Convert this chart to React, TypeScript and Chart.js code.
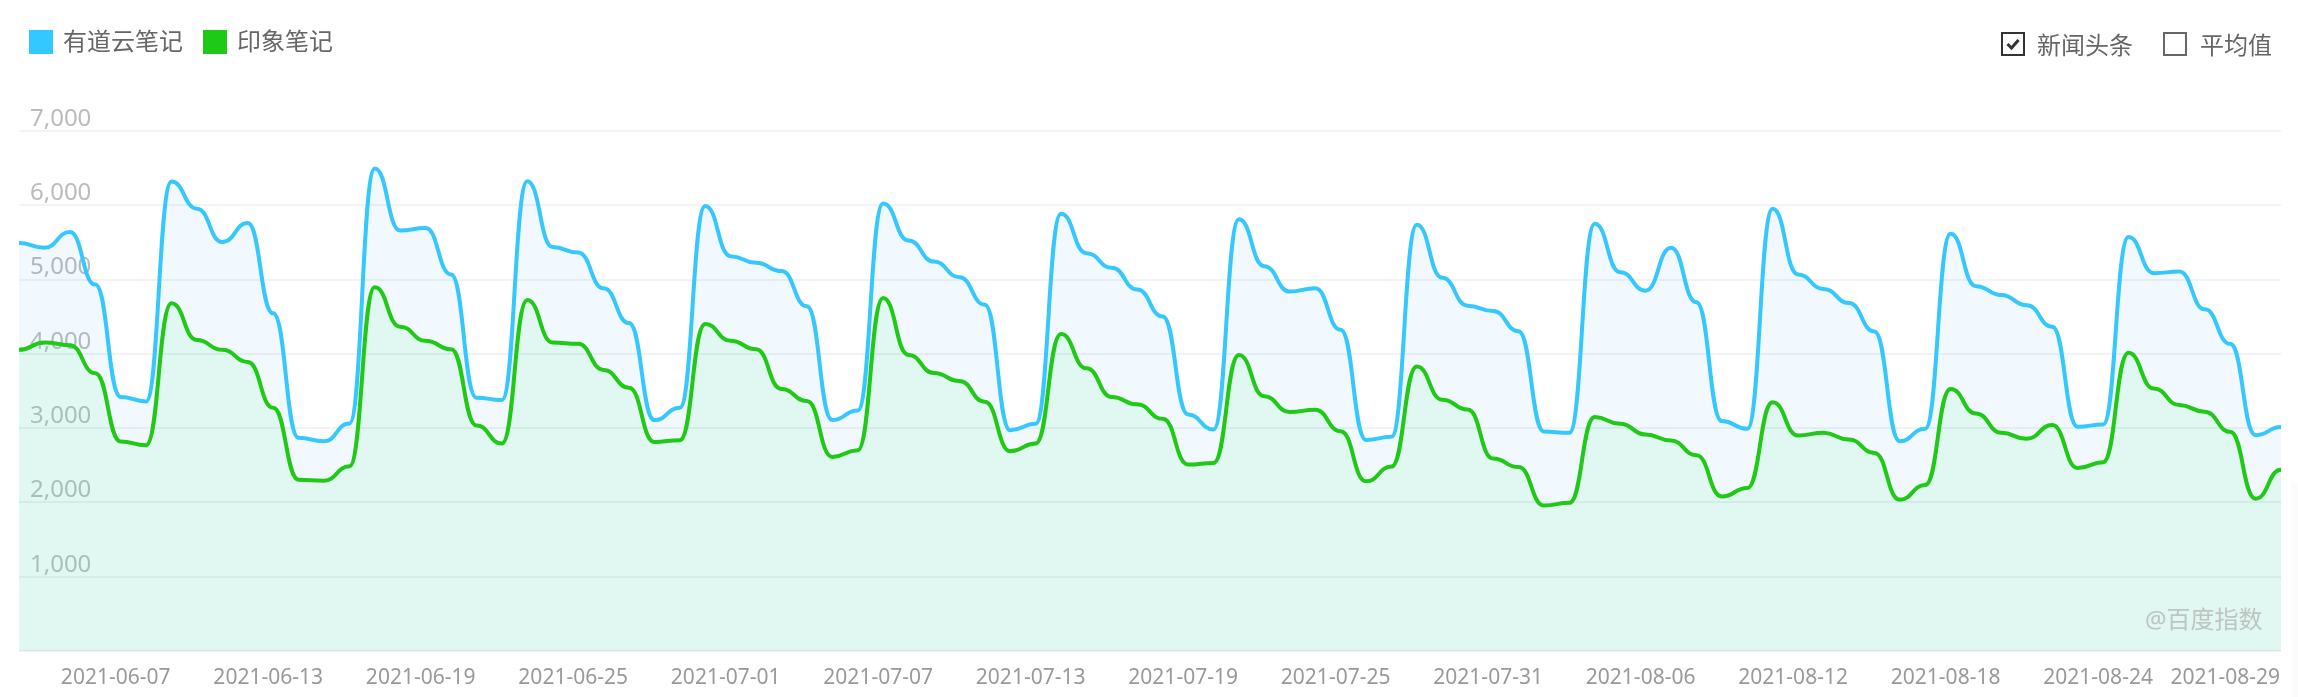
import React, { useEffect, useRef } from 'react'
import { Chart, registerables } from 'chart.js'

Chart.register(...registerables)

const dates = [
  '2021-06-01', '2021-06-02', '2021-06-03', '2021-06-04', '2021-06-05', '2021-06-06', '2021-06-07', '2021-06-08', '2021-06-09', '2021-06-10',
  '2021-06-11', '2021-06-12', '2021-06-13', '2021-06-14', '2021-06-15', '2021-06-16', '2021-06-17', '2021-06-18', '2021-06-19', '2021-06-20',
  '2021-06-21', '2021-06-22', '2021-06-23', '2021-06-24', '2021-06-25', '2021-06-26', '2021-06-27', '2021-06-28', '2021-06-29', '2021-06-30',
  '2021-07-01', '2021-07-02', '2021-07-03', '2021-07-04', '2021-07-05', '2021-07-06', '2021-07-07', '2021-07-08', '2021-07-09', '2021-07-10',
  '2021-07-11', '2021-07-12', '2021-07-13', '2021-07-14', '2021-07-15', '2021-07-16', '2021-07-17', '2021-07-18', '2021-07-19', '2021-07-20',
  '2021-07-21', '2021-07-22', '2021-07-23', '2021-07-24', '2021-07-25', '2021-07-26', '2021-07-27', '2021-07-28', '2021-07-29', '2021-07-30',
  '2021-07-31', '2021-08-01', '2021-08-02', '2021-08-03', '2021-08-04', '2021-08-05', '2021-08-06', '2021-08-07', '2021-08-08', '2021-08-09',
  '2021-08-10', '2021-08-11', '2021-08-12', '2021-08-13', '2021-08-14', '2021-08-15', '2021-08-16', '2021-08-17', '2021-08-18', '2021-08-19',
  '2021-08-20', '2021-08-21', '2021-08-22', '2021-08-23', '2021-08-24', '2021-08-25', '2021-08-26', '2021-08-27', '2021-08-28', '2021-08-29',
]

const tickDates = [
  '2021-06-07', '2021-06-13', '2021-06-19', '2021-06-25', '2021-07-01', '2021-07-07', '2021-07-13', '2021-07-19',
  '2021-07-25', '2021-07-31', '2021-08-06', '2021-08-12', '2021-08-18', '2021-08-24', '2021-08-29',
]

const youdao = [
  5491, 5428, 5640, 4932, 3419, 3360, 6320, 5955, 5505, 5761, 4545, 2869, 2824, 3063, 6495,
  5660, 5694, 5068, 3410, 3378, 6324, 5437, 5365, 4883, 4414, 3108, 3275, 5991, 5315, 5225,
  5115, 4640, 3108, 3239, 6023, 5527, 5243, 5032, 4662, 2973, 3059, 5887, 5356, 5158, 4865,
  4503, 3185, 2982, 5811, 5180, 4838, 4883, 4324, 2842, 2883, 5739, 5023, 4649, 4577, 4306,
  2955, 2937, 5752, 5099, 4851, 5428, 4694, 3095, 2991, 5955, 5068, 4874, 4685, 4302, 2824,
  2993, 5617, 4910, 4793, 4653, 4365, 3018, 3050, 5572, 5086, 5108, 4599, 4135, 2905, 3014,
]

const yinxiang = [
  4054, 4153, 4117, 3739, 2820, 2770, 4680, 4185, 4054, 3892, 3275, 2306, 2293, 2486, 4896,
  4365, 4176, 4063, 3036, 2793, 4725, 4153, 4135, 3784, 3545, 2815, 2838, 4401, 4176, 4063,
  3527, 3365, 2613, 2703, 4752, 3986, 3743, 3635, 3356, 2689, 2793, 4266, 3806, 3419, 3320,
  3126, 2509, 2532, 3986, 3428, 3216, 3248, 2959, 2284, 2482, 3829, 3383, 3252, 2590, 2477,
  1959, 1995, 3149, 3059, 2914, 2833, 2635, 2081, 2194, 3347, 2901, 2937, 2847, 2667, 2036,
  2235, 3527, 3198, 2937, 2856, 3041, 2464, 2541, 4014, 3532, 3311, 3221, 2950, 2050, 2441,
]

const FONT = '"Noto Sans", "Noto Sans CJK SC", sans-serif'
const SMOOTH = 0.5

// the original curve is flat at every point, which chart.js has no mode for
const flatTangents = {
  id: 'flatTangents',
  beforeDatasetsDraw(chart: any) {
    chart.getSortedVisibleDatasetMetas().forEach((meta: any) => {
      meta.data.forEach((p: any, i: number) => {
        const prev = meta.data[i - 1]
        const next = meta.data[i + 1]
        p.cp1x = prev ? p.x - (p.x - prev.x) * SMOOTH : p.x
        p.cp1y = p.y
        p.cp2x = next ? p.x + (next.x - p.x) * SMOOTH : p.x
        p.cp2y = p.y
      })
    })
  },
}

const abs = (left: number, top: number, extra: React.CSSProperties = {}): React.CSSProperties => ({
  position: 'absolute', left, top, ...extra,
})

const text: React.CSSProperties = { fontSize: 24, lineHeight: '24px', color: '#666', whiteSpace: 'nowrap' }

const App = () => {
  const canvasRef = useRef<HTMLCanvasElement>(null)

  useEffect(() => {
    if (!canvasRef.current) return
    const chart = new Chart(canvasRef.current, {
      type: 'line',
      plugins: [flatTangents],
      data: {
        labels: dates,
        datasets: [
          {
            label: '有道云笔记',
            data: youdao,
            borderColor: '#36C8FD',
            backgroundColor: 'rgba(55, 169, 255, 0.07)',
            fill: 'origin',
            order: 2,
          },
          {
            label: '印象笔记',
            data: yinxiang,
            borderColor: '#1FC916',
            backgroundColor: 'rgba(100, 228, 150, 0.12)',
            fill: 'origin',
            order: 1,
          },
        ],
      },
      options: {
        animation: false,
        responsive: false,
        devicePixelRatio: 1,
        layout: { padding: { left: 19, right: 17, top: 131, bottom: 0 } },
        elements: {
          point: { radius: 0 },
          line: { borderWidth: 4, cubicInterpolationMode: 'monotone', capBezierPoints: false },
        },
        plugins: { legend: { display: false }, tooltip: { enabled: false } },
        scales: {
          x: {
            type: 'category',
            border: { display: false },
            grid: { drawOnChartArea: false, color: '#fff', lineWidth: 2, tickLength: 3 },
            afterBuildTicks: (axis: any) => {
              axis.ticks = axis.ticks.filter((t: any) => t.value === 0 || tickDates.includes(dates[t.value]))
            },
            afterFit: (axis: any) => {
              axis.height = 46
              axis.paddingLeft = 0
              axis.paddingRight = 0
            },
            ticks: {
              autoSkip: false,
              maxRotation: 0,
              align: 'end',
              padding: 11,
              labelOffset: -1,
              color: '#999',
              font: { family: FONT, size: 21 },
              callback: (value: any) => (value === 0 ? '' : dates[value]),
            },
          },
          y: {
            min: 0,
            max: 7000,
            border: { display: false },
            grid: { color: '#F2F3F5', lineWidth: 2, drawTicks: false },
            afterFit: (axis: any) => {
              axis.width = 0
            },
            ticks: {
              stepSize: 1000,
              mirror: true,
              padding: 11,
              labelOffset: -12,
              color: '#BBBBBB',
              font: { family: FONT, size: 24 },
              callback: (value: any) => (value === 0 ? '' : Number(value).toLocaleString('en-US')),
            },
          },
        },
      },
    })
    return () => chart.destroy()
  }, [])

  return (
    <div style={{ position: 'fixed', left: 0, top: 0, width: 2298, height: 697, overflow: 'hidden', background: '#fff', fontFamily: FONT }}>
      <canvas ref={canvasRef} width={2298} height={697} style={{ display: 'block' }} />
      <div style={abs(2291, 483, { width: 7, height: 214, background: '#FBFBFB' })} />

      <div style={abs(29, 30, { width: 24, height: 24, background: '#33C8FF' })} />
      <div style={abs(63, 29, text)}>有道云笔记</div>
      <div style={abs(203, 30, { width: 24, height: 24, background: '#1EC918' })} />
      <div style={abs(237, 29, text)}>印象笔记</div>

      <div style={abs(2001, 32, { width: 20, height: 20, border: '2px solid #333' })}>
        <svg width="20" height="20" viewBox="0 0 20 20" style={{ display: 'block' }}>
          <path d="M4.5 10 L8.5 14 L15.5 6" fill="none" stroke="#333" strokeWidth="3" />
        </svg>
      </div>
      <div style={abs(2037, 33, text)}>新闻头条</div>
      <div style={abs(2163, 32, { width: 20, height: 20, border: '2px solid #666' })} />
      <div style={abs(2200, 33, text)}>平均值</div>

      <div style={abs(2145, 607, { ...text, color: '#BEC4C1' })}>@百度指数</div>
    </div>
  )
}

export default App
